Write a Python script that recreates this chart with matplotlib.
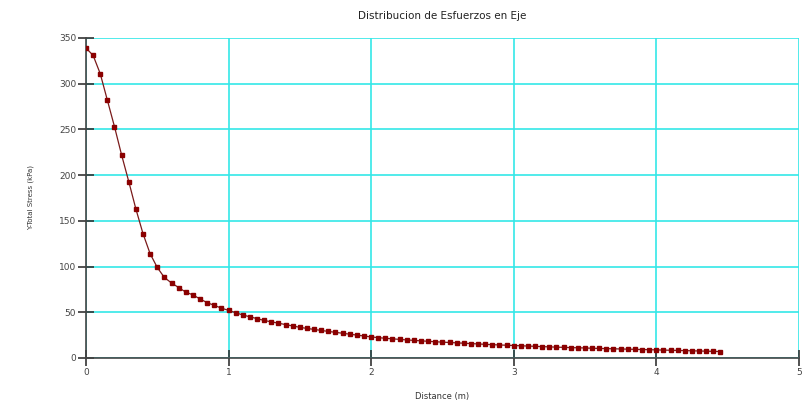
import matplotlib
matplotlib.use("Agg")
import matplotlib.pyplot as plt

distance = [0.00, 0.05, 0.10, 0.15, 0.20, 0.25, 0.30, 0.35, 0.40, 0.45,
            0.50, 0.55, 0.60, 0.65, 0.70, 0.75, 0.80, 0.85, 0.90, 0.95,
            1.00, 1.05, 1.10, 1.15, 1.20, 1.25, 1.30, 1.35, 1.40, 1.45,
            1.50, 1.55, 1.60, 1.65, 1.70, 1.75, 1.80, 1.85, 1.90, 1.95,
            2.00, 2.05, 2.10, 2.15, 2.20, 2.25, 2.30, 2.35, 2.40, 2.45,
            2.50, 2.55, 2.60, 2.65, 2.70, 2.75, 2.80, 2.85, 2.90, 2.95,
            3.00, 3.05, 3.10, 3.15, 3.20, 3.25, 3.30, 3.35, 3.40, 3.45,
            3.50, 3.55, 3.60, 3.65, 3.70, 3.75, 3.80, 3.85, 3.90, 3.95,
            4.00, 4.05, 4.10, 4.15, 4.20, 4.25, 4.30, 4.35, 4.40, 4.45]

stress = [339, 331, 311, 282, 253, 222, 193, 163, 136, 114,
          99, 88, 82, 77, 72, 69, 64.5, 60.5, 57.5, 54.5,
          52, 49.5, 47, 45, 43, 41, 39.5, 38, 36.5, 35,
          33.5, 32.3, 31.2, 30.1, 29.0, 28.0, 27.0, 26.0, 25.0, 24.0,
          23.0, 22.2, 21.5, 20.9, 20.3, 19.7, 19.2, 18.7, 18.2, 17.7,
          17.3, 16.9, 16.5, 16.1, 15.7, 15.3, 14.9, 14.5, 14.2, 13.9,
          13.6, 13.3, 13.0, 12.7, 12.4, 12.1, 11.8, 11.6, 11.3, 11.1,
          10.9, 10.6, 10.4, 10.2, 10.0, 9.8, 9.6, 9.4, 9.2, 9.0,
          8.8, 8.6, 8.4, 8.2, 8.0, 7.8, 7.6, 7.4, 7.2, 7.0]

x_ticks = [0, 1, 2, 3, 4, 5]
y_ticks = [0, 50, 100, 150, 200, 250, 300, 350]

fig = plt.figure(figsize=(8.11, 4.04), dpi=100)
ax = fig.add_axes([0.106, 0.114, 0.879, 0.792])

ax.plot(distance, stress, color="#7a1a1a", linewidth=0.9, marker="s",
        markersize=3.2, markerfacecolor="#8b0000", markeredgecolor="#8b0000", zorder=3)

ax.set_xlim(0, 5)
ax.set_ylim(0, 350)
ax.set_xticks(x_ticks)
ax.set_yticks(y_ticks)
ax.grid(True, color="#33e8e8", linewidth=1.2, zorder=0)
ax.set_axisbelow(True)

for s in ["top", "right"]:
    ax.spines[s].set_visible(False)
for s in ["left", "bottom"]:
    ax.spines[s].set_color("#444444")
    ax.spines[s].set_linewidth(1.2)

ax.tick_params(axis="both", direction="inout", length=12, width=1.2,
               color="#333333", labelsize=6.5, labelcolor="#444444")
ax.tick_params(axis="x", pad=1)
ax.tick_params(axis="y", pad=1)

ax.set_title("Distribucion de Esfuerzos en Eje", fontsize=7.5, color="#222222", pad=14)
ax.set_xlabel("Distance (m)", fontsize=6, color="#333333", labelpad=11)
ax.set_ylabel("Y-Total Stress (kPa)", fontsize=5, color="#333333", labelpad=18)

fig.savefig("out.png", dpi=100, facecolor="white")
